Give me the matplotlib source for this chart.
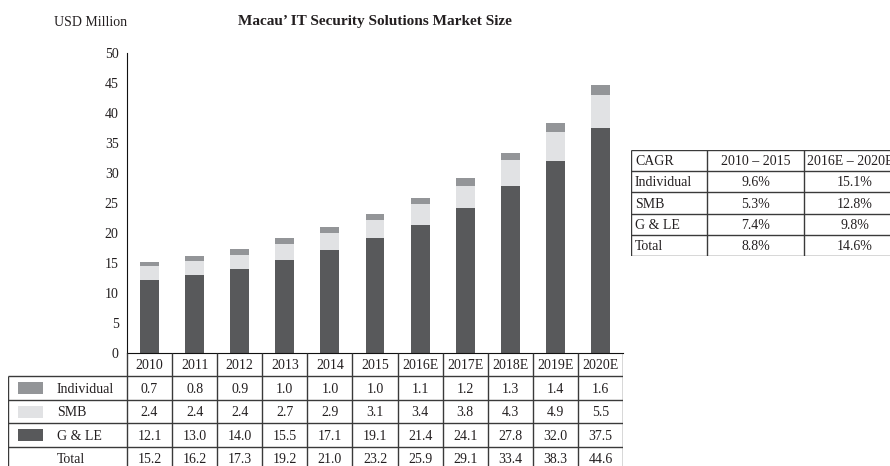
import matplotlib
matplotlib.use('Agg')
import matplotlib.pyplot as plt
from matplotlib.patches import Rectangle

plt.rcParams['font.family'] = ['Liberation Serif', 'DejaVu Serif']

# Market size by segment (USD million)
years = ['2010', '2011', '2012', '2013', '2014', '2015',
         '2016E', '2017E', '2018E', '2019E', '2020E']
individual = [0.7, 0.8, 0.9, 1.0, 1.0, 1.0, 1.1, 1.2, 1.3, 1.4, 1.6]
smb = [2.4, 2.4, 2.4, 2.7, 2.9, 3.1, 3.4, 3.8, 4.3, 4.9, 5.5]
gle = [12.1, 13.0, 14.0, 15.5, 17.1, 19.1, 21.4, 24.1, 27.8, 32.0, 37.5]
total = [15.2, 16.2, 17.3, 19.2, 21.0, 23.2, 25.9, 29.1, 33.4, 38.3, 44.6]

# CAGR table
cagr_header = ['CAGR', '2010 – 2015', '2016E – 2020E']
cagr_rows = ['Individual', 'SMB', 'G & LE', 'Total']
cagr_2010_2015 = ['9.6%', '5.3%', '7.4%', '8.8%']
cagr_2016_2020 = ['15.1%', '12.8%', '9.8%', '14.6%']

C_IND = '#939598'
C_SMB = '#e1e2e4'
C_GLE = '#58595b'
TXT = '#231f20'
LINE = '#3a3a3a'

W, H = 890, 466
fig = plt.figure(figsize=(W / 100, H / 100), dpi=100)


def box(x0, y0, x1, y1):
    """pixel box (top-left origin) -> figure fraction rect"""
    return [x0 / W, 1 - y1 / H, (x1 - x0) / W, (y1 - y0) / H]


# ---- stacked bar chart ----
ax = fig.add_axes(box(127, 53, 623, 353))
x = range(len(years))
bw = 0.42
ax.bar(x, gle, bw, color=C_GLE)
ax.bar(x, smb, bw, bottom=gle, color=C_SMB)
bottom2 = [g + s for g, s in zip(gle, smb)]
ax.bar(x, individual, bw, bottom=bottom2, color=C_IND)
ax.set_xlim(-0.5, 10.5)
ax.set_ylim(0, 50)
ax.set_yticks(range(0, 51, 5))
ax.set_xticks([])
ax.tick_params(axis='y', length=0, pad=6, labelsize=10, labelcolor=TXT)
for s in ['top', 'right']:
    ax.spines[s].set_visible(False)
ax.spines['left'].set_color('#111111')
ax.spines['bottom'].set_color('#111111')

fig.text(91 / W, 1 - 22 / H, 'USD Million', ha='center', va='center',
         fontsize=10, color=TXT)
fig.text(375 / W, 1 - 22 / H, 'Macau\u2019 IT Security Solutions Market Size',
         ha='center', va='center', fontsize=11, fontweight='bold', color=TXT)

# ---- data table under the chart ----
row_h = 23.4
tab = fig.add_axes(box(8, 353, 623, 353 + 5 * row_h))
ppx = 11 / 496  # data units per pixel


def px(p):
    return -0.5 - (127 - p) * ppx


tab.set_xlim(px(8), 10.5)
tab.set_ylim(5, 0)
tab.axis('off')

# grid
tab.vlines([i - 0.5 for i in range(12)], 0, 5, color=LINE, lw=1)
tab.vlines(px(8), 1, 5, color=LINE, lw=1)
tab.hlines([1, 2, 3, 4], px(8), 10.5, color=LINE, lw=1)

for i, y in enumerate(years):
    tab.text(i, 0.55, y, ha='center', va='center', fontsize=10, color=TXT)

rows = [('Individual', individual, C_IND), ('SMB', smb, C_SMB),
        ('G & LE', gle, C_GLE), ('Total', total, None)]
for r, (name, vals, col) in enumerate(rows, start=1):
    if col is not None:
        tab.add_patch(Rectangle((px(18), r + 0.25), 25 * ppx, 0.52,
                                facecolor=col, edgecolor='none'))
    tab.text(px(57), r + 0.55, name, ha='left', va='center', fontsize=10, color=TXT)
    for i, v in enumerate(vals):
        tab.text(i, r + 0.55, f'{v:.1f}', ha='center', va='center',
                 fontsize=10, color=TXT)

# ---- CAGR table ----
crow = 21.2
cx = [631, 707, 804, 905]
cg = fig.add_axes(box(631, 150, 905, 150 + 5 * crow))
cg.set_xlim(631, 905)
cg.set_ylim(5, 0)
cg.axis('off')
cg.hlines(range(6), 631, 905, color=LINE, lw=1)
cg.vlines(cx, 0, 5, color=LINE, lw=1)

cg.text(635, 0.55, cagr_header[0], ha='left', va='center', fontsize=10, color=TXT)
cg.text((cx[1] + cx[2]) / 2, 0.55, cagr_header[1], ha='center', va='center',
        fontsize=10, color=TXT)
cg.text(807, 0.55, cagr_header[2], ha='left', va='center',
        fontsize=10, color=TXT)
for r, name in enumerate(cagr_rows, start=1):
    cg.text(635, r + 0.55, name, ha='left', va='center', fontsize=10, color=TXT)
    cg.text((cx[1] + cx[2]) / 2, r + 0.55, cagr_2010_2015[r - 1], ha='center',
            va='center', fontsize=10, color=TXT)
    cg.text((cx[2] + cx[3]) / 2, r + 0.55, cagr_2016_2020[r - 1], ha='center',
            va='center', fontsize=10, color=TXT)

fig.savefig('out.png', dpi=100)
